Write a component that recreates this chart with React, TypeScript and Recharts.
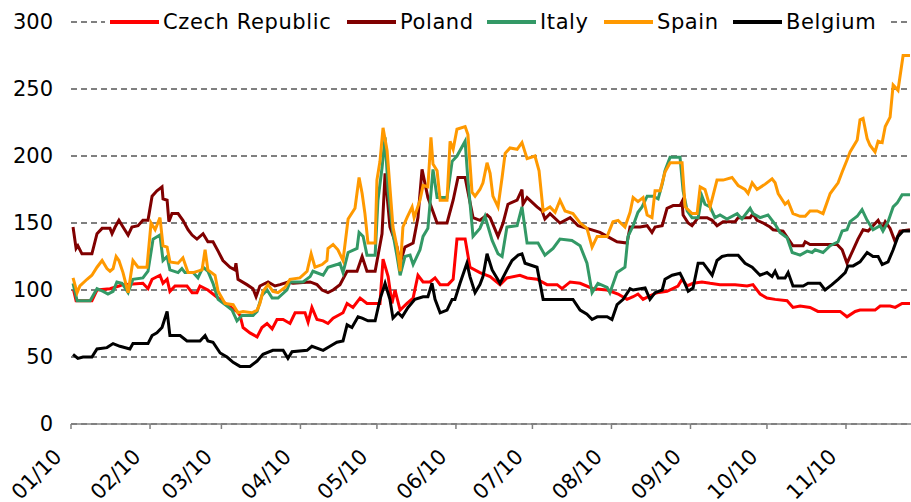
import React from 'react';
import { LineChart, Line, XAxis, YAxis, CartesianGrid, Legend } from 'recharts';

const monthTicks = [0, 31, 59, 90, 120, 151, 181, 212, 243, 273, 304];
const monthLabels = ['01/10', '02/10', '03/10', '04/10', '05/10', '06/10', '07/10', '08/10', '09/10', '10/10', '11/10'];
const yTicks = [0, 50, 100, 150, 200, 250, 300];

const czechDays = [1, 2, 8.2, 10.2, 15.3, 18.8, 20.4, 28.2, 30.2, 31.8, 34.9, 36.1, 37.7, 38.8, 40.8, 45.5, 47.5, 49.4, 50.6, 53.7, 57.7, 61.2, 65.1, 66.3, 67.5, 70.2, 73, 74.9, 76.9, 78.9, 80.8, 83.2, 85.9, 87.9, 91.8, 93, 94.5, 96.5, 98.9, 100.8, 102.8, 106.7, 108.3, 110.6, 113.4, 116.1, 121.2, 122.4, 124.4, 125.9, 127.1, 129.1, 131.8, 134.2, 136.1, 138.1, 140.8, 142.8, 144.8, 147.9, 149.9, 151.4, 154.6, 156.5, 160.4, 164.4, 168.3, 171, 176.1, 178.9, 182.8, 186.7, 190.7, 192.6, 195.8, 199.7, 204.8, 210.3, 214.6, 218.1, 220.5, 222.4, 224.4, 226.4, 229.9, 233.8, 238.1, 239.7, 241.7, 244, 247.5, 250.7, 254.6, 260.5, 265.2, 267.5, 270.3, 273, 276.2, 280.9, 283.2, 286, 289.9, 293, 301.7, 304.4, 307.6, 309.5, 315.4, 317.4, 321.3, 323.3, 326, 329.1];
const czechValues = [100, 92, 92, 100, 101, 103, 104, 105, 101, 108, 111, 105, 108, 99, 103, 103, 98, 98, 103, 100, 94, 89, 84, 81, 72, 68, 65, 72, 75, 71, 78, 78, 75, 83, 83, 76, 87, 78, 77, 75, 79, 83, 90, 87, 94, 90, 90, 123, 110, 90, 100, 85, 90, 94, 111, 106, 106, 109, 104, 104, 108, 138, 138, 117, 113, 110, 104, 109, 111, 109, 108, 104, 104, 101, 106, 105, 101, 100, 97, 93, 95, 97, 93, 95, 98, 99, 103, 108, 103, 105, 106, 105, 104, 104, 103, 104, 97, 94, 93, 92, 87, 88, 87, 84, 84, 80, 84, 85, 85, 88, 88, 87, 90, 90];

const polandDays = [0.8, 2, 2.7, 4.3, 8.2, 10.2, 12.2, 15.3, 16.1, 17.3, 18.8, 20.4, 22.4, 23.9, 26.3, 28.2, 30.2, 31.8, 33.7, 35.7, 36.1, 37.7, 38.4, 39.6, 42, 43.9, 45.9, 47.5, 49.4, 51.8, 53.7, 55.7, 57.7, 59.6, 62.4, 64.3, 64.7, 65.5, 69, 71.4, 72.6, 74.1, 77.3, 80, 82, 85.1, 87.1, 93.8, 96.5, 98.5, 100.8, 102.8, 105.5, 108.3, 112.2, 114.2, 116.1, 119.3, 122, 123.2, 125.1, 127.9, 129.1, 131, 134.2, 136.1, 137.7, 140, 143.6, 147.5, 149.9, 151.8, 154.6, 157.7, 160.4, 163.2, 164.4, 167.5, 169.5, 171.4, 175, 176.9, 177.3, 178.9, 182.8, 184.8, 185.9, 187.9, 191.8, 195.8, 198.9, 202.4, 207.5, 210.3, 214.2, 218.1, 219.3, 223.2, 226, 227.9, 229.1, 231.9, 233.8, 236.2, 238.9, 239.7, 240.1, 242.1, 243.6, 246, 249.5, 251.5, 253.4, 255.8, 260.5, 261.7, 266.4, 267.5, 269.1, 271.5, 274.2, 275.4, 279.3, 283.2, 287.2, 288, 289.9, 300.5, 302.5, 304.4, 306.8, 308.7, 310.7, 312.7, 314.6, 316.6, 318.2, 319.4, 321.3, 323.3, 325.2, 329.1];
const polandValues = [147, 131, 133, 127, 127, 142, 146, 146, 142, 147, 152, 147, 141, 147, 148, 152, 152, 170, 174, 177, 168, 167, 151, 157, 157, 152, 145, 141, 138, 142, 136, 136, 129, 122, 117, 115, 120, 108, 104, 101, 95, 103, 106, 103, 104, 106, 105, 106, 104, 100, 98, 100, 104, 114, 114, 125, 114, 114, 142, 187, 147, 132, 120, 132, 135, 154, 190, 169, 150, 150, 167, 184, 184, 154, 152, 156, 154, 140, 150, 164, 167, 175, 164, 169, 162, 159, 153, 157, 150, 154, 148, 146, 143, 140, 136, 135, 147, 147, 148, 143, 147, 148, 161, 163, 163, 166, 156, 150, 148, 154, 154, 152, 148, 151, 151, 154, 154, 157, 152, 150, 147, 145, 144, 133, 133, 136, 134, 134, 130, 120, 130, 138, 145, 144, 148, 152, 146, 151, 146, 136, 144, 145];

const italyDays = [0.8, 2.4, 7.5, 10.2, 12.6, 14.5, 16.5, 18, 20, 22.4, 24.3, 28.2, 30.2, 32.2, 34.9, 36.1, 37.7, 38.8, 42, 43.5, 44.7, 47.9, 49.8, 51.8, 53.7, 55.7, 57.7, 61.2, 63.2, 65.1, 67.1, 71.4, 73, 74.9, 76.9, 78.9, 81.2, 84.7, 85.9, 91, 93.8, 94.9, 98.9, 100.8, 104.3, 105.5, 106.7, 108.7, 112.2, 113, 114.6, 116.1, 119.3, 120.4, 122, 123.2, 124.4, 126.3, 127.9, 129.1, 131, 133, 134.2, 136.9, 138.1, 140, 142, 143.6, 147.5, 149.5, 151.4, 154.6, 155.7, 157.7, 160.4, 162.4, 165.2, 167.5, 169.1, 171, 175, 176.9, 178.9, 183.2, 185.9, 189.1, 191.8, 196.5, 199.7, 202.4, 204.4, 206.7, 210.3, 211.4, 214.2, 217.3, 218.5, 220.5, 222.4, 224, 226, 228.3, 230.3, 231.9, 233, 235, 238.9, 240.1, 241.7, 243.6, 246, 247.5, 248.7, 250.7, 252.6, 254.6, 257.3, 261.3, 263.2, 266.4, 267.5, 270.3, 273.4, 276.2, 278.1, 280.9, 282.9, 286, 288.8, 290.7, 291.9, 295, 297.8, 300.9, 302.5, 304.4, 305.6, 308.4, 310.3, 312.3, 314.6, 317.4, 318.5, 320.5, 322.5, 324.1, 326, 329.1];
const italyValues = [105, 92, 92, 101, 99, 97, 99, 106, 105, 98, 108, 109, 114, 138, 141, 122, 125, 115, 113, 116, 113, 113, 109, 117, 114, 105, 93, 88, 85, 77, 81, 81, 84, 96, 100, 94, 94, 100, 106, 106, 110, 114, 111, 117, 119, 120, 113, 128, 131, 143, 140, 126, 126, 167, 191, 214, 174, 142, 125, 111, 125, 126, 119, 130, 140, 146, 190, 169, 169, 196, 200, 211, 182, 140, 146, 155, 137, 127, 125, 147, 148, 162, 135, 135, 126, 131, 138, 137, 133, 120, 98, 105, 102, 98, 113, 117, 140, 148, 158, 162, 170, 170, 168, 179, 189, 199, 199, 174, 159, 154, 154, 170, 164, 162, 154, 156, 153, 157, 153, 161, 157, 154, 156, 149, 143, 139, 128, 126, 129, 128, 130, 128, 133, 136, 144, 145, 151, 155, 160, 152, 145, 148, 144, 151, 162, 165, 171, 171];

const spainDays = [0.8, 2.4, 3.5, 6.3, 8.2, 10.2, 12.2, 14.1, 15.3, 16.5, 17.7, 18.8, 20.4, 22.4, 24.3, 26.3, 29.8, 31.4, 33, 34.9, 36.1, 37.7, 38.8, 42, 43.9, 45.9, 47.9, 51.4, 52.6, 53.7, 56.5, 57.7, 60.4, 63.6, 65.5, 67.5, 71, 73, 74.1, 75.3, 77.3, 79.2, 81.2, 84, 85.9, 89.8, 92.6, 94.2, 95.7, 98.5, 100.4, 100.8, 102.8, 104.7, 106.7, 108.7, 111.4, 113, 114.2, 115.3, 116.5, 119.3, 120, 121.2, 122.4, 124, 126.3, 127.9, 129.1, 130.2, 131.8, 133.8, 134.6, 136.9, 138.1, 140, 141.2, 142, 143.6, 144.8, 147.5, 148.7, 149.9, 151.4, 154.6, 155.7, 157.3, 158.5, 160.4, 161.6, 163.2, 164.4, 165.5, 167.5, 169.1, 170.3, 172.2, 175, 176.9, 178.9, 182, 183.6, 185.2, 187.9, 189.9, 191.8, 193.8, 196.9, 199.7, 202.4, 204.4, 206.4, 210.3, 212.6, 214.6, 217.3, 219.3, 220.5, 222.4, 224.4, 226, 227.9, 229.1, 231.1, 233, 235, 239.7, 240.9, 243.6, 245.6, 246.8, 248.7, 250.7, 253.4, 255.8, 259.3, 261.7, 264.4, 265.6, 267.2, 269.1, 272.3, 275, 276.2, 277.4, 280.1, 281.3, 283.2, 286, 288, 289.9, 292.7, 295, 297.8, 300.9, 302.5, 304.4, 305.6, 308.4, 309.5, 310.7, 312.3, 313.4, 315.4, 316.6, 318.2, 319.4, 321.3, 322.5, 324.4, 326.4, 329.1];
const spainValues = [109, 98, 103, 108, 111, 117, 122, 116, 114, 116, 125, 122, 113, 98, 122, 117, 117, 150, 145, 154, 133, 132, 121, 120, 124, 113, 113, 115, 130, 115, 111, 99, 90, 89, 83, 84, 83, 85, 90, 99, 104, 99, 98, 102, 108, 109, 114, 127, 117, 119, 122, 131, 134, 130, 122, 153, 161, 184, 172, 157, 135, 135, 182, 196, 221, 204, 147, 132, 114, 147, 154, 162, 154, 167, 178, 177, 214, 194, 189, 167, 167, 211, 205, 220, 222, 216, 173, 170, 175, 180, 195, 187, 170, 162, 184, 202, 206, 205, 210, 198, 200, 189, 159, 162, 158, 167, 159, 157, 150, 146, 132, 140, 140, 151, 152, 147, 158, 169, 166, 169, 156, 154, 174, 174, 188, 195, 195, 162, 157, 157, 177, 175, 162, 182, 182, 184, 178, 175, 172, 180, 175, 179, 183, 180, 172, 164, 166, 157, 155, 155, 159, 159, 157, 172, 180, 188, 197, 203, 212, 227, 228, 213, 208, 203, 211, 210, 222, 229, 253, 249, 275, 275];

const belgiumDays = [0.8, 2.7, 4.7, 8.2, 10.2, 14.1, 16.5, 19.2, 23.1, 24.3, 30.2, 31.8, 33.7, 35.7, 37.7, 38.8, 42.8, 45.5, 50.6, 52.6, 53.7, 55.7, 58.5, 61.2, 63.6, 66.3, 70.2, 73, 75.3, 79.2, 83.2, 85.1, 86.7, 92.6, 94.5, 98.9, 101.6, 104.3, 106.7, 108.3, 110.2, 112.6, 114.2, 116.5, 119.3, 121.2, 123.2, 125.1, 126.3, 128.3, 129.9, 132.2, 134.9, 138.1, 140, 141.6, 142.8, 144.8, 147.5, 149.5, 150.6, 152.6, 155.3, 156.5, 158.5, 160.4, 161.6, 163.2, 165.2, 168.3, 171, 173, 175.4, 176.9, 178.1, 182.8, 185.2, 196.9, 199.7, 202.4, 204.4, 206.4, 210.3, 212.2, 214.2, 216.6, 219.3, 220.5, 225.2, 227.1, 229.1, 231.9, 233, 235.8, 238.9, 240.1, 242.1, 244, 246, 248, 251.5, 253.4, 255.4, 257.7, 261.7, 264.4, 267.2, 270.3, 273, 275, 276.2, 277.4, 280.1, 281.3, 283.2, 287.2, 289.1, 293.8, 295.8, 298.5, 300.9, 303.7, 304.8, 306.8, 309.5, 310.7, 312.3, 314.6, 316.6, 318.2, 320.5, 322.5, 324.4, 326.4, 329.1];
const belgiumValues = [52, 49, 50, 50, 56, 57, 60, 58, 56, 60, 60, 66, 68, 72, 84, 66, 66, 62, 62, 66, 62, 61, 53, 50, 46, 43, 43, 47, 52, 55, 55, 49, 54, 55, 58, 55, 58, 61, 62, 74, 72, 80, 79, 77, 77, 93, 105, 93, 79, 83, 80, 87, 93, 95, 95, 105, 93, 83, 85, 93, 93, 105, 120, 110, 98, 104, 110, 127, 115, 105, 115, 122, 126, 127, 120, 117, 93, 93, 85, 82, 78, 80, 80, 78, 89, 93, 101, 100, 101.5, 93, 98, 100, 108, 111, 112.5, 108, 99, 101.5, 120, 120, 111, 122, 125, 126, 126, 120, 117, 111, 113, 110, 114, 109, 109, 113, 103, 103, 105, 105, 100, 104, 108, 113, 118, 118, 121, 124, 128, 125, 125, 119, 121, 130, 140, 144, 144];

const toPoints = (days: number[], values: number[]) => days.map((d, i) => ({ day: d, value: values[i] }));

const series = [
  { name: 'Czech Republic', color: '#FF0000', data: toPoints(czechDays, czechValues) },
  { name: 'Poland', color: '#800000', data: toPoints(polandDays, polandValues) },
  { name: 'Italy', color: '#339966', data: toPoints(italyDays, italyValues) },
  { name: 'Spain', color: '#FF9900', data: toPoints(spainDays, spainValues) },
  { name: 'Belgium', color: '#000000', data: toPoints(belgiumDays, belgiumValues) },
];

// legend item slot widths (px), in legend order
const legendSlots = [237, 140, 117, 129, 151];

const FONT = '"DejaVu Sans", Verdana, sans-serif';

const XTick = (props: any) => {
  const { x, y, payload } = props;
  const idx = monthTicks.indexOf(payload.value);
  const label = idx >= 0 ? monthLabels[idx] : '';
  const ax = x - 8;
  const ay = y + 27;
  return (
    <text x={ax} y={ay} transform={`rotate(-45, ${ax}, ${ay})`} textAnchor="end" fontFamily={FONT} fontSize={21} fill="#000">
      {label}
    </text>
  );
};

const LegendContent = () => (
  <div style={{ display: 'flex', alignItems: 'center', background: '#fff', padding: '0 5px', height: 26, fontFamily: FONT, fontSize: 21, letterSpacing: 0.6, color: '#000', whiteSpace: 'nowrap' }}>
    {series.map((s, i) => (
      <div key={s.name} style={{ display: 'flex', alignItems: 'center', width: legendSlots[i], flex: 'none' }}>
        <div style={{ width: 49, height: 4, background: s.color, marginRight: 4, flex: 'none' }} />
        <span style={{ lineHeight: '26px' }}>{s.name}</span>
      </div>
    ))}
  </div>
);

export default function App() {
  return (
    <div style={{ position: 'absolute', left: 0, top: 0, width: 911, height: 502, background: '#fff' }}>
      <LineChart width={911} height={502} margin={{ top: 22, right: 0, bottom: 0, left: 0 }}>
        <CartesianGrid vertical={false} stroke="#000" strokeDasharray="6 4" strokeWidth={1} />
        <XAxis
          dataKey="day"
          type="number"
          domain={[0, 329.5]}
          ticks={monthTicks}
          interval={0}
          height={78}
          stroke="#808080"
          strokeWidth={1.5}
          tickSize={5}
          tick={<XTick />}
        />
        <YAxis
          domain={[0, 300]}
          ticks={yTicks}
          width={71}
          axisLine={false}
          tickLine={false}
          tickSize={0}
          tickMargin={18}
          tick={{ fontFamily: FONT, fontSize: 21, fill: '#000' }}
        />
        <Legend
          verticalAlign="middle"
          align="center"
          layout="horizontal"
          wrapperStyle={{ top: 9, left: 105, width: 'auto', height: 26 }}
          content={<LegendContent />}
        />
        {series.map((s) => (
          <Line
            key={s.name}
            data={s.data}
            dataKey="value"
            name={s.name}
            type="linear"
            stroke={s.color}
            strokeWidth={3}
            dot={false}
            activeDot={false}
            isAnimationActive={false}
          />
        ))}
      </LineChart>
    </div>
  );
}
